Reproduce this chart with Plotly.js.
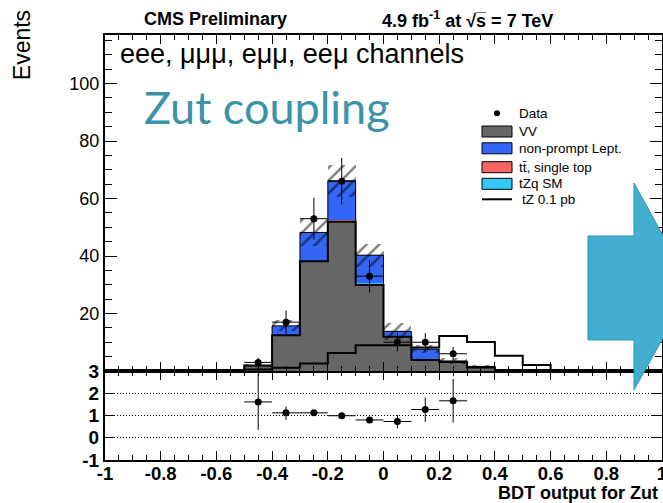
<!DOCTYPE html>
<html>
<head>
<meta charset="utf-8">
<script src="https://cdn.plot.ly/plotly-3.0.1.min.js"></script>
<style>
  html, body { margin: 0; padding: 0; background: #ffffff; }
  #chart { width: 663px; height: 503px; }
</style>
</head>
<body>
<div id="chart"></div>
<script>
// BDT output bins (centres), width 0.1 from -1 to 1
const binCenters = [-0.95, -0.85, -0.75, -0.65, -0.55, -0.45, -0.35, -0.25, -0.15, -0.05,
                     0.05,  0.15,  0.25,  0.35,  0.45,  0.55,  0.65,  0.75,  0.85,  0.95];

// stacked backgrounds (events per bin)
const vv        = [0, 0, 0, 0, 0, 1.9, 12.4, 38.2, 51.9, 29.9, 11.9, 3.8, 3.1, 1.2, 0, 0, 0, 0, 0, 0];
const ttbar     = [0, 0, 0, 0, 0, 0,   0,    0.2,  0.6,  0.4,  0,    0,   0,   0,   0, 0, 0, 0, 0, 0];
const tzqSM     = [0, 0, 0, 0, 0, 0,   0,    0,    0.2,  0.2,  0,    0,   0,   0,   0, 0, 0, 0, 0, 0];
const nonPrompt = [0, 0, 0, 0, 0, 0,   3.3,  9.8,  13.5, 9.8,  1.9,  3.8, 0.4, 0.4, 0, 0, 0, 0, 0, 0];
// total background uncertainty (half-width of the hatched band)
const mcUnc     = [0, 0, 0, 0, 0, 0.5, 1.9,  4.8,  5.5,  4.0,  3.0,  1.5, 1.0, 0.5, 0, 0, 0, 0, 0, 0];
// tZ signal, 0.1 pb
const tz01pb    = [0, 0, 0, 0, 0, 0.5, 1.1,  2.6,  6.3,  9.0,  9.0,  8.2, 12.2, 10.1, 5.3, 2.1, 0, 0, 0, 0];

// observed data
const dataX   = [-0.45, -0.35, -0.25, -0.15, -0.05, 0.05, 0.15, 0.25];
const dataY   = [3, 17, 53, 66, 33, 10, 10, 6];
const dataErr = [1.7, 4.1, 7.3, 8.1, 5.7, 3.2, 3.2, 2.4];

// data / background ratio
const ratioY       = [1.61, 1.12, 1.12, 0.99, 0.80, 0.73, 1.27, 1.66];
const ratioErrUp   = [1.26, 0.28, 0.13, 0.10, 0.12, 0.29, 0.54, 0.98];
const ratioErrDown = [1.25, 0.32, 0.13, 0.10, 0.12, 0.30, 0.55, 0.98];

// tick labels
const xTickVals  = [-1, -0.8, -0.6, -0.4, -0.2, 0, 0.2, 0.4, 0.6, 0.8, 1];
const xTickText  = ["-1", "-0.8", "-0.6", "-0.4", "-0.2", "0", "0.2", "0.4", "0.6", "0.8", "1"];
const yTickVals  = [20, 40, 60, 80, 100];
const yTickText  = ["20", "40", "60", "80", "100"];
const rTickVals  = [-1, 0, 1, 2, 3];
const rTickText  = ["-1", "0", "1", "2", "3"];

// legend entries
const legendLabels = ["Data", "VV", "non-prompt Lept.", "t\u0074\u0304, single top", "tZq SM", "tZ 0.1 pb"];
const legendKinds  = ["marker", "box", "box", "box", "box", "line"];
const legendColors = ["#000000", "#666666", "#3366f5", "#f76464", "#33c8f6", "#000000"];

const BIN_W = 0.1;
const FONT = "Liberation Sans, Arial, Helvetica, sans-serif";

// cumulative stack bases
const base1 = vv.slice();
const base2 = base1.map((v, i) => v + ttbar[i]);
const base3 = base2.map((v, i) => v + tzqSM[i]);
const total = base3.map((v, i) => v + nonPrompt[i]);

// bin edges for step outlines
const edges = binCenters.map(c => c - BIN_W / 2).concat([binCenters[binCenters.length - 1] + BIN_W / 2]);
function stepY(vals) { return vals.concat([vals[vals.length - 1]]); }

function stackBar(name, vals, base, color) {
  return {
    type: 'bar', name: name, x: binCenters, y: vals, base: base, width: BIN_W,
    xaxis: 'x2', yaxis: 'y', showlegend: false,
    marker: { color: color, opacity: 1, line: { width: 0 } },
    hoverinfo: 'skip'
  };
}

const traces = [
  stackBar(legendLabels[1], vv, binCenters.map(() => 0), legendColors[1]),
  stackBar(legendLabels[3], ttbar, base1, legendColors[3]),
  stackBar(legendLabels[4], tzqSM, base2, legendColors[4]),
  stackBar(legendLabels[2], nonPrompt, base3, legendColors[2]),
  // hatched uncertainty band
  {
    type: 'bar', x: binCenters, y: mcUnc.map(u => 2 * u), base: total.map((t, i) => t - mcUnc[i]),
    width: BIN_W, xaxis: 'x2', yaxis: 'y', showlegend: false, hoverinfo: 'skip',
    marker: {
      color: 'rgba(0,0,0,0)', line: { width: 0 },
      pattern: { shape: '/', fgcolor: '#000000', bgcolor: 'rgba(0,0,0,0)', size: 9, solidity: 0.28, fillmode: 'overlay' }
    }
  },
  // histogram outlines
  {
    type: 'scatter', mode: 'lines', x: edges, y: stepY(total), xaxis: 'x2', yaxis: 'y',
    line: { shape: 'hv', color: '#000000', width: 1 }, showlegend: false, hoverinfo: 'skip'
  },
  {
    type: 'scatter', mode: 'lines', x: edges, y: stepY(vv), xaxis: 'x2', yaxis: 'y',
    line: { shape: 'hv', color: '#000000', width: 2 }, showlegend: false, hoverinfo: 'skip'
  },
  // tZ signal
  {
    type: 'scatter', mode: 'lines', name: legendLabels[5], x: edges, y: stepY(tz01pb), xaxis: 'x2', yaxis: 'y',
    line: { shape: 'hv', color: '#000000', width: 2 }, showlegend: false, hoverinfo: 'skip'
  },
  // data
  {
    type: 'scatter', mode: 'markers', name: legendLabels[0], x: dataX, y: dataY, xaxis: 'x2', yaxis: 'y',
    marker: { color: '#000000', size: 7 }, showlegend: false,
    error_y: { type: 'data', array: dataErr, color: '#000000', thickness: 1, width: 0 },
    error_x: { type: 'constant', value: BIN_W / 2, color: '#000000', thickness: 1, width: 0 }
  },
  // ratio panel
  {
    type: 'scatter', mode: 'markers', x: dataX, y: ratioY, xaxis: 'x', yaxis: 'y2',
    marker: { color: '#000000', size: 7 }, showlegend: false,
    error_y: { type: 'data', array: ratioErrUp, arrayminus: ratioErrDown, color: '#000000', thickness: 1, width: 0 },
    error_x: { type: 'constant', value: BIN_W / 2, color: '#000000', thickness: 1, width: 0 }
  }
];

const tickStyle = { ticks: 'inside', tickcolor: '#000000', tickwidth: 1, showline: true,
                    linecolor: '#000000', linewidth: 2, mirror: 'allticks', zeroline: false };

// ---- legend box, in plot-area fractions (plot area is 557 x 425 px) ----
const PW = 557, PH = 425;
const legX0 = 377 / PW, legX1 = 407 / PW;          // swatch column
const legTextX = 412 / PW;                          // label column
const legRowY = [346.7, 328.5, 311.7, 292.8, 276.2, 260.7].map(v => v / PH);
const boxHalf = 5.5 / PH;

const legendShapes = [];
const legendNotes = [];
legendLabels.forEach((label, i) => {
  const yc = legRowY[i];
  if (legendKinds[i] === 'box') {
    legendShapes.push({ type: 'rect', xref: 'paper', yref: 'paper', x0: legX0, x1: legX1,
      y0: yc - boxHalf, y1: yc + boxHalf, fillcolor: legendColors[i], line: { color: '#000000', width: 1 } });
  } else if (legendKinds[i] === 'line') {
    legendShapes.push({ type: 'line', xref: 'paper', yref: 'paper', x0: legX0, x1: legX1,
      y0: yc, y1: yc, line: { color: legendColors[i], width: 2 } });
  } else {
    const cx = (legX0 + legX1) / 2;
    legendShapes.push({ type: 'circle', xref: 'paper', yref: 'paper', x0: cx - 3 / PW, x1: cx + 3 / PW,
      y0: yc - 3 / PH, y1: yc + 3 / PH, fillcolor: legendColors[i], line: { color: legendColors[i], width: 0 } });
  }
  legendNotes.push({ xref: 'paper', yref: 'paper', x: legTextX + (legendKinds[i] === 'line' ? 3 / PW : 0), y: yc,
    xanchor: 'left', yanchor: 'middle', text: label, showarrow: false,
    font: { family: FONT, size: 13.5, color: '#000000' } });
});

// arrow outline in plot-area fractions
const arrowPath = 'M 0.8671,0.5271 L 0.9497,0.5271 L 0.9497,0.6518 L 1.0530,0.4071 ' +
                  'L 0.9497,0.1647 L 0.9497,0.2824 L 0.8671,0.2824 Z';

const layout = {
  width: 663, height: 503,
  margin: { l: 105, r: 1, t: 35, b: 43, pad: 0 },
  paper_bgcolor: '#ffffff', plot_bgcolor: '#ffffff',
  barmode: 'overlay', bargap: 0,
  font: { family: FONT, color: '#000000' },
  showlegend: false,
  xaxis: Object.assign({}, tickStyle, {
    anchor: 'y2', range: [-1, 1], tickmode: 'array', tickvals: xTickVals, ticktext: xTickText,
    ticklen: 9, tickfont: { family: FONT, size: 18.5, weight: 700 }, ticklabelstandoff: -4,
    ticklabeloverflow: 'allow',
    minor: { tickmode: 'linear', tick0: -1, dtick: 0.05, ticklen: 5, ticks: 'inside', tickcolor: '#000000' },
    showgrid: false
  }),
  xaxis2: Object.assign({}, tickStyle, {
    anchor: 'y', matches: 'x', range: [-1, 1], tickmode: 'array', tickvals: xTickVals,
    showticklabels: false, ticklen: 9,
    minor: { tickmode: 'linear', tick0: -1, dtick: 0.05, ticklen: 5, ticks: 'inside', tickcolor: '#000000' },
    showgrid: false
  }),
  yaxis: Object.assign({}, tickStyle, {
    anchor: 'x2', domain: [0.2094, 1], range: [0, 116.9],
    tickmode: 'array', tickvals: yTickVals, ticktext: yTickText, ticklen: 12,
    tickfont: { family: FONT, size: 18 },
    minor: { tickmode: 'linear', tick0: 0, dtick: 5, ticklen: 7, ticks: 'inside', tickcolor: '#000000' },
    showgrid: false
  }),
  yaxis2: Object.assign({}, tickStyle, {
    anchor: 'x', domain: [0, 0.2094], range: [-1, 3],
    tickmode: 'array', tickvals: rTickVals, ticktext: rTickText, ticklen: 10,
    tickfont: { family: FONT, size: 19, weight: 700 },
    showgrid: true, gridcolor: '#000000', griddash: '1px,2px', gridwidth: 1
  }),
  shapes: legendShapes.concat([
    { type: 'path', xref: 'paper', yref: 'paper', path: arrowPath, layer: 'above',
      fillcolor: '#42aed0', line: { color: '#2f96b8', width: 1 } }
  ]),
  annotations: legendNotes.concat([
    { xref: 'paper', yref: 'paper', x: 0.1975, y: 1.0376, xanchor: 'center', yanchor: 'middle',
      text: 'CMS Preliminary', showarrow: false, font: { family: FONT, size: 18, weight: 700 } },
    { xref: 'paper', yref: 'paper', x: 0.651, y: 1.0376, xanchor: 'center', yanchor: 'middle',
      text: '4.9 fb<sup>-1</sup> at \u221As\u0305 = 7 TeV', showarrow: false, font: { family: FONT, size: 18, weight: 700 } },
    { xref: 'paper', yref: 'paper', x: 0.0233, y: 0.955, xanchor: 'left', yanchor: 'middle',
      text: 'eee, \u03bc\u03bc\u03bc, e\u03bc\u03bc, ee\u03bc channels', showarrow: false, font: { family: FONT, size: 27 } },
    { xref: 'paper', yref: 'paper', x: 0.066, y: 0.83, xanchor: 'left', yanchor: 'middle',
      text: 'Zut coupling', showarrow: false, font: { family: 'Lato, Open Sans, sans-serif', size: 45, color: '#3a93a9' } },
    { xref: 'paper', yref: 'paper', x: -0.149, y: 0.976, xanchor: 'center', yanchor: 'middle', textangle: -90,
      text: 'Events', showarrow: false, font: { family: FONT, size: 23 } },
    { xref: 'paper', yref: 'paper', x: 0.9964, y: -0.0775, xanchor: 'right', yanchor: 'middle',
      text: 'BDT output for Zut', showarrow: false, font: { family: FONT, size: 18, weight: 700 } }
  ])
};

Plotly.newPlot('chart', traces, layout, { staticPlot: true, displayModeBar: false });
</script>
</body>
</html>
